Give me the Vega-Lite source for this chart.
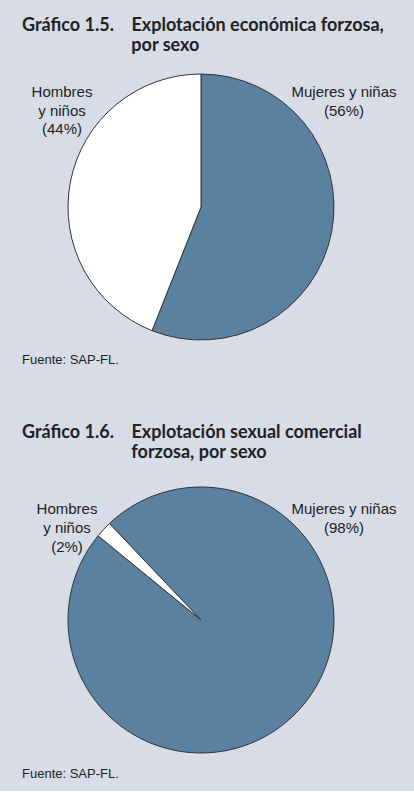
{
  "$schema": "https://vega.github.io/schema/vega-lite/v6.json",
  "background": "#d7dce7",
  "padding": {"top": 17, "left": 0, "right": 12, "bottom": 10},
  "config": {
    "view": {"stroke": null},
    "concat": {"spacing": 57}
  },
  "datasets": {
    "sexo": [
      {"grafico": "1.5", "grupo": "Mujeres y niñas", "etiqueta": "Mujeres y niñas", "pct": 56},
      {"grafico": "1.5", "grupo": "Hombres y niños", "etiqueta": "Hombres\ny niños", "pct": 44},
      {"grafico": "1.6", "grupo": "Mujeres y niñas", "etiqueta": "Mujeres y niñas", "pct": 98},
      {"grafico": "1.6", "grupo": "Hombres y niños", "etiqueta": "Hombres\ny niños", "pct": 2}
    ]
  },
  "vconcat": [
    {
      "title": {"text": "Fuente: SAP-FL.", "orient": "bottom", "anchor": "start", "dx": 22, "offset": -3,
        "font": "Liberation Sans", "fontSize": 13, "fontWeight": "normal", "color": "#222"},
      "vconcat": [
        {
          "width": 402,
          "height": 300,
          "title": {
            "text": ["Gráfico 1.5.\u00a0\u00a0\u00a0\u00a0Explotación económica forzosa,", "\u200b\u00a0\u00a0\u00a0\u00a0\u00a0\u00a0\u00a0\u00a0\u00a0\u00a0\u00a0\u00a0\u00a0\u00a0\u00a0\u00a0\u00a0\u00a0\u00a0\u00a0\u00a0\u00a0\u00a0\u00a0\u00a0por sexo"],
            "anchor": "start", "dx": 22, "offset": 2,
            "font": "Lato", "fontSize": 18, "fontWeight": "bold", "lineHeight": 20, "color": "#222"
          },
          "data": {"name": "sexo"},
          "transform": [
            {"filter": "datum.grafico == '1.5'"},
            {"calculate": "datum.etiqueta + '\\n(' + datum.pct + '%)'", "as": "rotulo"}
          ],
          "layer": [
            {
              "mark": {"type": "arc", "outerRadius": 133, "stroke": "#333", "strokeWidth": 1},
              "encoding": {
                "theta": {"field": "pct", "type": "quantitative", "stack": true},
                "order": {"field": "grupo", "sort": "descending"},
                "color": {"field": "grupo", "type": "nominal", "legend": null,
                  "scale": {"domain": ["Mujeres y niñas", "Hombres y niños"], "range": ["#5a82a0", "#ffffff"]}}
              }
            },
            {
              "mark": {"type": "text", "align": "center", "baseline": "top", "lineBreak": "\n",
                "font": "Liberation Sans", "fontSize": 15, "lineHeight": 18.5, "color": "#222"},
              "encoding": {
                "x": {"field": "grupo", "type": "nominal", "axis": null,
                  "scale": {"type": "point", "domain": ["Hombres y niños", "Mujeres y niñas"], "range": [62, 344], "padding": 0}},
                "y": {"value": 28},
                "text": {"field": "rotulo", "type": "nominal"}
              }
            }
          ]
        }
      ]
    },
    {
      "title": {"text": "Fuente: SAP-FL.", "orient": "bottom", "anchor": "start", "dx": 22, "offset": -2,
        "font": "Liberation Sans", "fontSize": 13, "fontWeight": "normal", "color": "#222"},
      "vconcat": [
        {
          "width": 402,
          "height": 300,
          "title": {
            "text": ["Gráfico 1.6.\u00a0\u00a0\u00a0\u00a0Explotación sexual comercial", "\u200b\u00a0\u00a0\u00a0\u00a0\u00a0\u00a0\u00a0\u00a0\u00a0\u00a0\u00a0\u00a0\u00a0\u00a0\u00a0\u00a0\u00a0\u00a0\u00a0\u00a0\u00a0\u00a0\u00a0\u00a0\u00a0forzosa, por sexo"],
            "anchor": "start", "dx": 22, "offset": 8,
            "font": "Lato", "fontSize": 18, "fontWeight": "bold", "lineHeight": 20, "color": "#222"
          },
          "data": {"name": "sexo"},
          "transform": [
            {"filter": "datum.grafico == '1.6'"},
            {"calculate": "datum.etiqueta + '\\n(' + datum.pct + '%)'", "as": "rotulo"}
          ],
          "layer": [
            {
              "mark": {"type": "arc", "outerRadius": 133, "stroke": "#333", "strokeWidth": 1},
              "encoding": {
                "theta": {"field": "pct", "type": "quantitative", "stack": true,
                  "scale": {"range": [5.524, 11.807]}},
                "order": {"field": "grupo", "sort": "descending"},
                "color": {"field": "grupo", "type": "nominal", "legend": null,
                  "scale": {"domain": ["Mujeres y niñas", "Hombres y niños"], "range": ["#5a82a0", "#ffffff"]}}
              }
            },
            {
              "mark": {"type": "text", "align": "center", "baseline": "top", "lineBreak": "\n",
                "font": "Liberation Sans", "fontSize": 15, "lineHeight": 19, "color": "#222"},
              "encoding": {
                "x": {"field": "grupo", "type": "nominal", "axis": null,
                  "scale": {"type": "point", "domain": ["Hombres y niños", "Mujeres y niñas"], "range": [67, 344], "padding": 0}},
                "y": {"value": 32},
                "text": {"field": "rotulo", "type": "nominal"}
              }
            }
          ]
        }
      ]
    }
  ]
}
